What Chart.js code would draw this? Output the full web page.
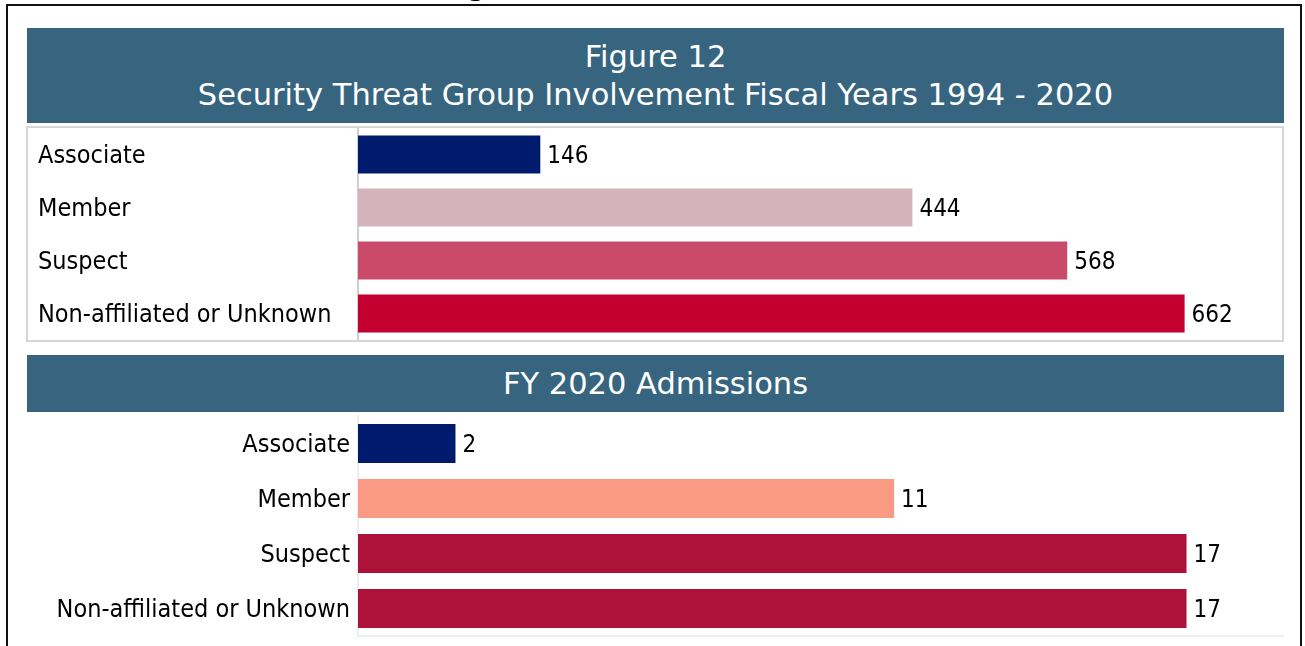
<!DOCTYPE html>
<html>
<head>
<meta charset="utf-8">
<script src="https://cdn.jsdelivr.net/npm/chart.js@4"></script>
<style>
  html, body { margin:0; padding:0; background:#fff; width:1305px; height:646px; overflow:hidden; font-family:"DejaVu Sans Condensed", "DejaVu Sans", sans-serif; }
  .abs { position:absolute; }
  #frame { left:6px; top:4px; width:1292px; height:700px; border:2px solid #111; box-sizing:content-box; }
  #cut { left:432px; top:-30px; font-size:30px; line-height:30px; color:#000; white-space:nowrap; font-family:"DejaVu Sans", sans-serif; }
  .banner { background:#37657f; color:#fff; text-align:center; font-family:"DejaVu Sans", sans-serif; }
  #b1 { left:27px; top:28px; width:1257px; height:95px; font-size:30.5px; line-height:38px; padding-top:10px; box-sizing:border-box; }
  #b2 { left:27px; top:355px; width:1257px; height:57px; font-size:30.5px; line-height:57px; }
  #box1 { left:26px; top:126px; width:1254px; height:212px; border:2px solid #d6d6d6; }
  #c1wrap { left:28px; top:128px; width:1254px; height:212px; }
  #c2wrap { left:27px; top:415px; width:1257px; height:223px; }
</style>
</head>
<body>
<div id="cut" class="abs">(Figure 12)</div>
<div id="frame" class="abs"></div>
<div id="b1" class="abs banner">Figure 12<br>Security Threat Group Involvement Fiscal Years 1994 - 2020</div>
<div id="box1" class="abs"></div>
<div id="c1wrap" class="abs"><canvas id="c1"></canvas></div>
<div id="b2" class="abs banner">FY 2020 Admissions</div>
<div id="c2wrap" class="abs"><canvas id="c2"></canvas></div>
<script>
const categories = ["Associate", "Member", "Suspect", "Non-affiliated or Unknown"];
const totalValues = [146, 444, 568, 662];
const totalColors = ["#001a6e", "#d5b3ba", "#c94a69", "#c30030"];
const admissionValues = [2, 11, 17, 17];
const admissionColors = ["#001a6e", "#fa9a85", "#ad1339", "#ad1339"];

const FONT = "'DejaVu Sans Condensed', 'DejaVu Sans', sans-serif";

const valueLabels = {
  id: 'valueLabels',
  afterDatasetsDraw(chart) {
    const ctx = chart.ctx;
    const meta = chart.getDatasetMeta(0);
    const data = chart.data.datasets[0].data;
    ctx.save();
    ctx.font = "24px " + FONT;
    ctx.fillStyle = "#000";
    ctx.textAlign = "left";
    ctx.textBaseline = "middle";
    meta.data.forEach((bar, i) => {
      ctx.fillText(String(data[i]), bar.x + 7, bar.y + 2);
    });
    ctx.restore();
  }
};

function makeChart(id, values, colors, xMax, opts) {
  return new Chart(document.getElementById(id), {
    type: 'bar',
    data: {
      labels: categories,
      datasets: [{
        data: values,
        backgroundColor: colors,
        borderWidth: 0,
        categoryPercentage: 1,
        barPercentage: opts.barPct
      }]
    },
    options: {
      indexAxis: 'y',
      responsive: true,
      maintainAspectRatio: false,
      animation: false,
      layout: { padding: opts.padding },
      plugins: { legend: { display: false }, tooltip: { enabled: false } },
      scales: {
        x: {
          min: 0, max: xMax,
          display: opts.xBorder ? true : false,
          ticks: { display: false },
          grid: { display: false, drawTicks: false },
          border: { display: !!opts.xBorder, color: opts.xBorder || '#eee', width: 2 },
          afterFit(s) { s.height = 0; s.paddingLeft = 0; s.paddingRight = 0; }
        },
        y: {
          ticks: {
            color: '#000',
            font: { family: FONT, size: 25 },
            crossAlign: opts.crossAlign,
            padding: 8,
            labelOffset: 2
          },
          grid: { display: false, drawTicks: false },
          border: { display: true, color: opts.yBorder, width: 2 },
          afterFit(s) { s.width = opts.axisWidth; s.paddingTop = 0; s.paddingBottom = 0; }
        }
      }
    },
    plugins: [valueLabels]
  });
}

makeChart('c1', totalValues, totalColors, 740, {
  barPct: 0.72,
  padding: { left: 10, right: 0, top: 0, bottom: 0 },
  crossAlign: 'far',
  axisWidth: 320,
  yBorder: '#cfcfcf'
});

makeChart('c2', admissionValues, admissionColors, 19, {
  barPct: 0.71,
  padding: { left: 0, right: 0, top: 1, bottom: 2 },
  crossAlign: 'near',
  axisWidth: 331,
  yBorder: '#eeeeee',
  xBorder: '#eeeeee'
});
</script>
</body>
</html>
